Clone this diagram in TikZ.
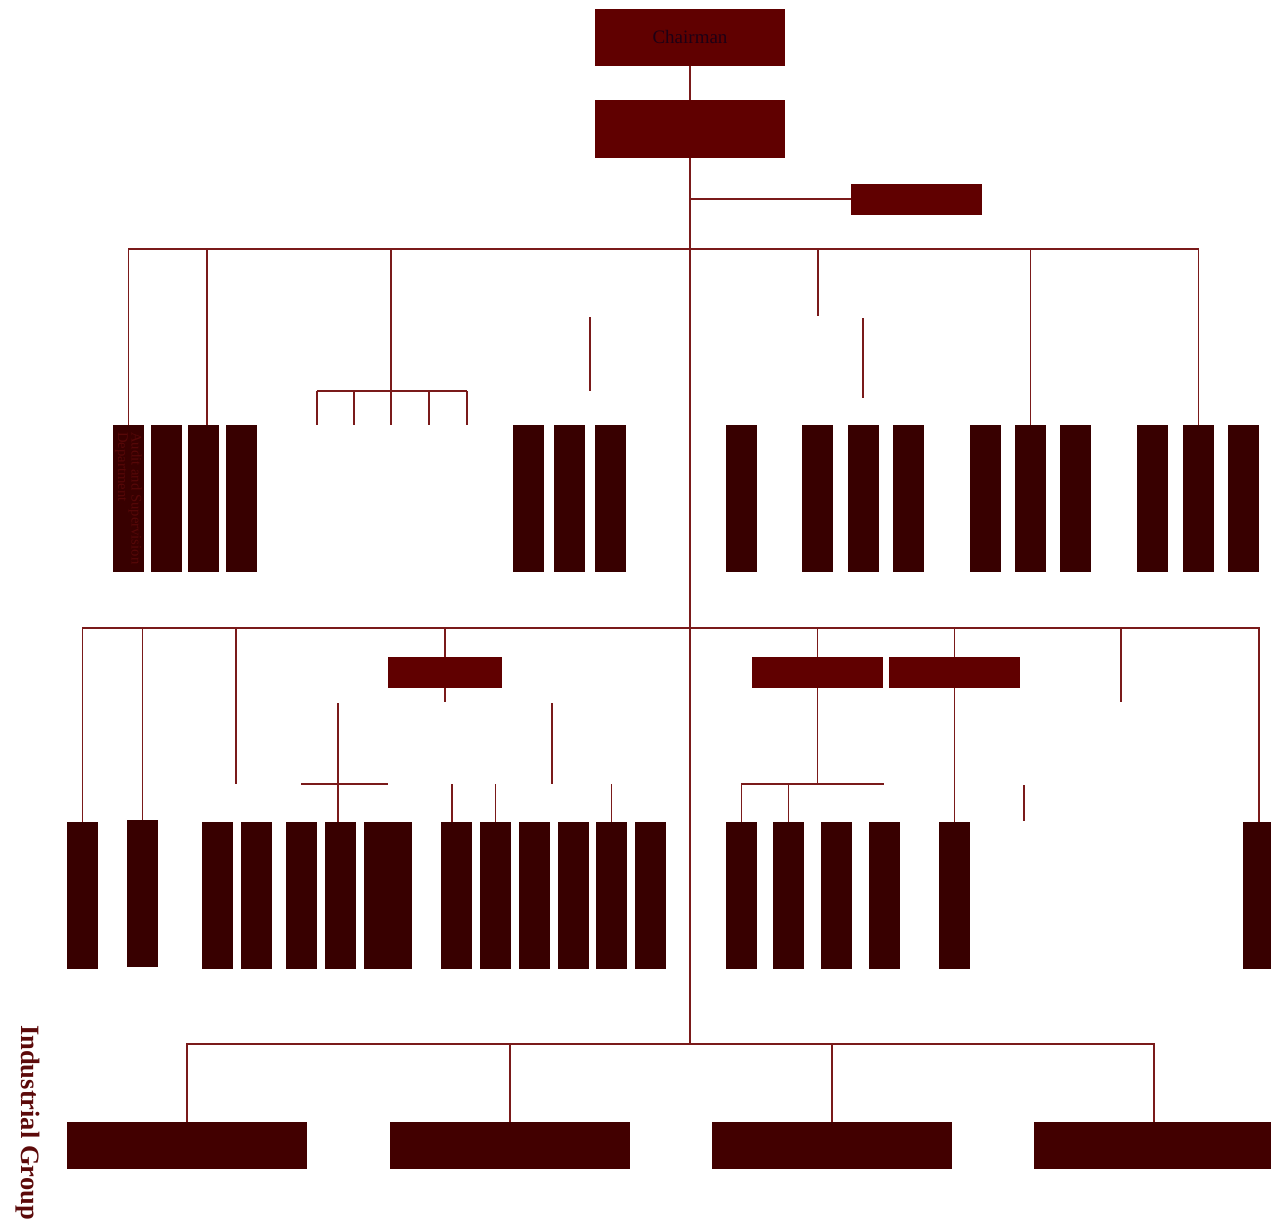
\documentclass[tikz,border=0pt]{standalone}
\usepackage{fontspec}
\setmainfont{Liberation Serif}
\usetikzlibrary{positioning}
\definecolor{crimsonbox}{HTML}{600000}
\definecolor{darkbar}{HTML}{380000}
\definecolor{groupbox}{HTML}{420000}
\definecolor{wire}{HTML}{7A1A1A}
\definecolor{ink}{HTML}{1E0014}
\definecolor{deepred}{HTML}{5C0A0A}

\begin{document}
\begin{tikzpicture}[x=1pt,y=-1pt,
  head/.style={fill=crimsonbox,inner sep=0pt,outer sep=0pt,minimum width=190pt,minimum height=57pt},
  unit/.style={fill=crimsonbox,inner sep=0pt,outer sep=0pt,minimum height=31pt},
  bar/.style={fill=darkbar,inner sep=0pt,outer sep=0pt,anchor=north west,minimum height=147pt},
  group/.style={fill=groupbox,inner sep=0pt,outer sep=0pt,anchor=north west,minimum width=240pt,minimum height=47pt},
  link/.style={draw=wire,line width=1.7pt}]
\useasboundingbox (0,0) rectangle (1271,1228);

% boxes
\node[head,text=ink,font=\fontsize{19}{22}\selectfont] (chair) at (690,37.5) {Chairman};
\node[head] (vice) at (690,129) {};
\node[unit,minimum width=131pt] (office) at (916.5,199) {};
\foreach \x [count=\i] in {113,151,188,226,513,554,595,726,802,848,893,970,1015,1060,1137,1183,1228}
  \node[bar,minimum width=31pt] (u\i) at (\x,425) {};
\node[unit,minimum width=114pt] (div1) at (445,672.5) {};
\node[unit,minimum width=131pt] (div2) at (817.5,672.5) {};
\node[unit,minimum width=131pt] (div3) at (954.5,672.5) {};
\foreach \x/\y/\w [count=\i] in {67/822/31,127/820/31,202/822/31,241/822/31,286/822/31,325/822/31,364/822/48,
  441/822/31,480/822/31,519/822/31,558/822/31,596/822/31,635/822/31,726/822/31,773/822/31,821/822/31,
  869/822/31,939/822/31,1243/822/31}
  \node[bar,minimum width=\w pt] (l\i) at (\x,\y) {};
\foreach \x [count=\i] in {67,390,712,1034}
  \node[group] (g\i) at (\x,1122) {};

% labels
\node[rotate=-90,anchor=west,align=left,inner sep=0pt,text=deepred!85!darkbar,
  font=\fontsize{14.7}{13.5}\selectfont] (audit) at ([yshift=-7pt]u1.north) {Audit and Supervision\\Department};
\node[rotate=-90,inner sep=0pt,text=deepred,font=\bfseries\fontsize{26.5}{30}\selectfont] (industry) at (28,1122.5) {Industrial Group};

% junctions and loose ends
\coordinate (bus1) at (690,249);
\coordinate (bus2) at (690,628);
\coordinate (bus3) at (690,1044);
\coordinate (bus2e) at (1259,628);
\coordinate (fork) at (391,391);
\foreach \x [count=\i] in {317,354,391,429,467}
  \coordinate (leg\i) at (\x,425);
\coordinate (stubA) at (818,316);
\coordinate (stubB1) at (590,317);
\coordinate (stubB2) at (590,391);
\coordinate (stubC1) at (863,318);
\coordinate (stubC2) at (863,398);
\coordinate (stubD) at (236,784);
\coordinate (stubE) at (1121,702);
\coordinate (stubF1) at (552,703);
\coordinate (stubF2) at (552,784);
\coordinate (stubG1) at (1024,785);
\coordinate (stubG2) at (1024,821);
\coordinate (crossT) at (338,703);
\coordinate (crossW) at (301,784);
\coordinate (crossE) at (388,784);
\coordinate (split) at (884,784);

% top
\draw[link] (chair) -- (vice);
\draw[link] (vice.south) -- (bus3);
\draw[link] (vice.south |- office) -- (office.west);

% first level
\draw[link] (u1.north) |- (u16.north |- bus1) -- (u16.north);
\draw[link] ([xshift=3.5pt]u3.north |- bus1) -- ([xshift=3.5pt]u3.north);
\draw[link] (u13.north |- bus1) -- (u13.north);
\draw[link] (fork |- bus1) -- (fork);
\draw[link] (leg1 |- fork) -- (leg5 |- fork);
\foreach \i in {1,...,5}
  \draw[link] (leg\i |- fork) -- (leg\i);
\draw[link] (stubA |- bus1) -- (stubA);
\draw[link] (stubB1) -- (stubB2);
\draw[link] (stubC1) -- (stubC2);

% second level
\draw[link] (l1.north) |- (bus2e) -- (bus2e |- l19.north);
\draw[link] (l2.north |- bus2) -- (l2.north);
\draw[link] (stubD |- bus2) -- (stubD);
\draw[link] (stubE |- bus2) -- (stubE);
\draw[link] (div1.north |- bus2) -- (div1.north);
\draw[link] (div1.south) -- ++(0,14);
\draw[link] (div2.north |- bus2) -- (div2.north);
\draw[link] (div3.north |- bus2) -- (div3.north);
\draw[link] (div2.south) -- (div2.south |- split);
\draw[link] (l14.north) |- (split);
\draw[link] (l15.north |- split) -- (l15.north);
\draw[link] (div3) -- (l18);
\draw[link] (crossT) -- (crossT |- l6.north);
\draw[link] (crossW) -- (crossE);
\draw[link] (stubF1) -- (stubF2);
\draw[link] (stubG1) -- (stubG2);
\draw[link] ([xshift=-4.5pt]l8.north) -- ++(0,-38);
\draw[link] (l9.north) -- ++(0,-38);
\draw[link] (l12.north) -- ++(0,-38);

% group level
\draw[link] (g1.north) |- (g4.north |- bus3) -- (g4.north);
\draw[link] (g2.north |- bus3) -- (g2.north);
\draw[link] (g3.north |- bus3) -- (g3.north);
\end{tikzpicture}
\end{document}
